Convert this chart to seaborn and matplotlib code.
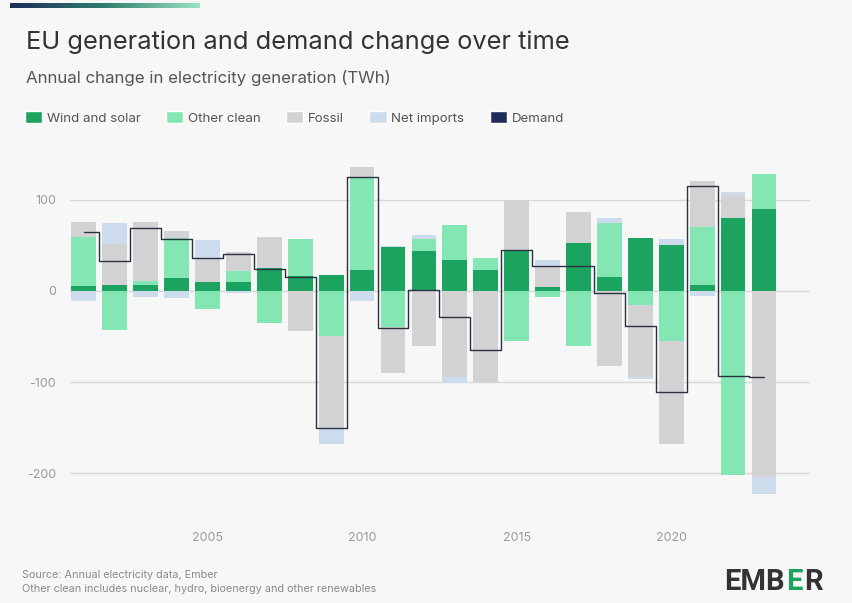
import matplotlib
matplotlib.use("Agg")
import matplotlib.pyplot as plt
from matplotlib.patches import Patch
import numpy as np
import pandas as pd
import seaborn as sns

# Annual change in EU electricity generation, TWh
years = list(range(2001, 2024))
wind_solar = [5, 7, 7, 14, 10, 10, 25, 16, 17, 23, 48, 44, 34, 23, 45, 4, 53, 15, 58, 51, 6, 80, 90]
other_clean = [54, -43, 4, 44, -20, 12, -35, 41, -49, 101, -40, 13, 38, 13, -55, -7, -60, 60, -15, -55, 64, -202, 38]
fossil = [17, 45, 65, 8, 26, 21, 34, -44, -100, 12, -50, -60, -95, -100, 55, 22, 34, -82, -80, -113, 51, 25, -204]
net_imports = [-11, 23, -7, -8, 20, -2, 0, 0, -19, -11, 1, 4, -6, 0, 0, 8, 0, 5, -2, 6, -5, 4, -19]
demand = [65, 33, 69, 57, 36, 41, 24, 15, -150, 125, -41, 1, -29, -65, 45, 27, 27, -2, -39, -111, 115, -93, -95]

series = ["Wind and solar", "Other clean", "Fossil", "Net imports"]
colors = {
    "Wind and solar": "#1ba35f",
    "Other clean": "#84e7b3",
    "Fossil": "#d2d1d4",
    "Net imports": "#cddced",
}
demand_color = "#1e2c5a"
bg = "#f7f7f7"

df = pd.DataFrame({
    "year": years,
    "Wind and solar": wind_solar,
    "Other clean": other_clean,
    "Fossil": fossil,
    "Net imports": net_imports,
    "Demand": demand,
})

sns.set_theme(style="white")
plt.rcParams["font.family"] = ["Inter", "DejaVu Sans"]

fig = plt.figure(figsize=(8.53, 6.03), dpi=100, facecolor=bg)
ax = fig.add_axes([0.082, 0.14, 0.868, 0.604], facecolor=bg)

# stacked diverging bars
pos_base = np.zeros(len(years))
neg_base = np.zeros(len(years))
handles = []
for name in series:
    vals = df[name].to_numpy(dtype=float)
    bottom = np.where(vals >= 0, pos_base, neg_base)
    ax.bar(df["year"], vals, bottom=bottom, width=0.8, color=colors[name],
           linewidth=0, zorder=2)
    pos_base += np.clip(vals, 0, None)
    neg_base += np.clip(vals, None, 0)
    handles.append(Patch(facecolor=colors[name], label=name))

# demand as a step line across the bars
sns.lineplot(data=df, x="year", y="Demand", ax=ax, color="#2c3140",
             linewidth=1.0, drawstyle="steps-mid", zorder=3)
handles.append(Patch(facecolor=demand_color, label="Demand"))

ax.set_xlim(2000.55, 2024.5)
ax.set_ylim(-250, 150)
ax.set_yticks([100, 0, -100, -200])
ax.set_yticklabels(["100", "0", "-100", "-200"])
ax.set_xticks([2005, 2010, 2015, 2020])
ax.set_xlabel("")
ax.set_ylabel("")
ax.grid(axis="y", color="#d8d8d8", linewidth=1, zorder=0)
ax.grid(axis="x", visible=False)
for s in ax.spines.values():
    s.set_visible(False)
ax.tick_params(axis="y", length=0, pad=10, labelsize=9, labelcolor="#9a9a9a")
ax.tick_params(axis="x", length=3, width=0.8, color="#bbbbbb", pad=7,
               labelsize=9, labelcolor="#9a9a9a")

# header
fig.text(0.031, 1 - 42 / 603, "EU generation and demand change over time",
         fontsize=18.3, color="#333333", va="center")
fig.text(0.031, 1 - 78 / 603, "Annual change in electricity generation (TWh)",
         fontsize=12.2, color="#555555", va="center")
fig.legend(handles=handles, loc="center left", bbox_to_anchor=(0.015, 1 - 118 / 603),
           ncol=5, frameon=False, fontsize=9.6, handlelength=1.3, handleheight=1.0,
           handletextpad=0.35, columnspacing=1.9, labelcolor="#555555")

# top accent bar
grad = fig.add_axes([10 / 853, 1 - 8 / 603, 190 / 853, 5 / 603])
grad.imshow(np.linspace(0, 1, 256)[None, :], aspect="auto",
            cmap=matplotlib.colors.LinearSegmentedColormap.from_list(
                "acc", ["#1e2c5a", "#2f7f6e", "#9be3c4"]))
grad.axis("off")

# footer
fig.text(0.026, 1 - 575 / 603, "Source: Annual electricity data, Ember",
         fontsize=7.8, color="#8a8a8a", va="center")
fig.text(0.026, 1 - 589 / 603, "Other clean includes nuclear, hydro, bioenergy and other renewables",
         fontsize=7.8, color="#8a8a8a", va="center")

# logo
logo_y = 1 - 582 / 603
parts = [("EMB", "#333333"), ("E", "#1ba35f"), ("R", "#333333")]
fig.canvas.draw()
renderer = fig.canvas.get_renderer()
x = 724 / 853
for txt, col in parts:
    t = fig.text(x, logo_y, txt, fontsize=21, fontweight="bold", color=col,
                 va="center", family=["Roboto", "DejaVu Sans"])
    bb = t.get_window_extent(renderer)
    x += bb.width / fig.bbox.width + 0.002

fig.savefig("out.png", dpi=100, facecolor=bg)
